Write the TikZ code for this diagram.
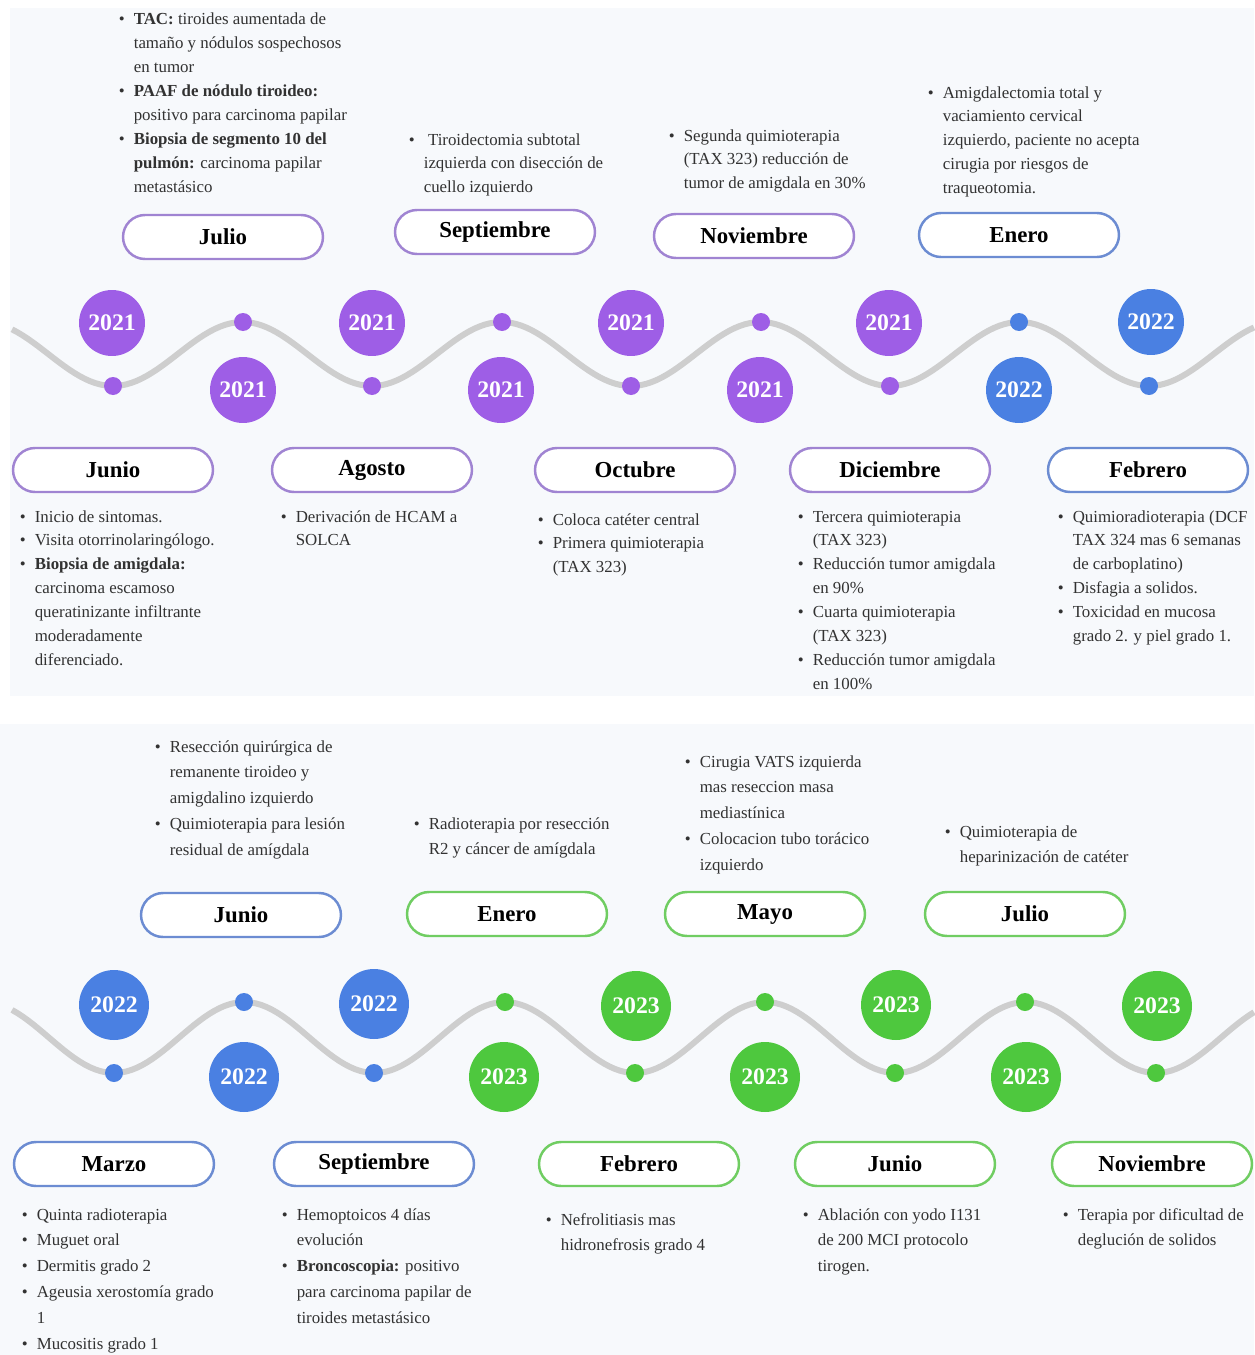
\documentclass[tikz,border=0pt]{standalone}
\usepackage{fontspec}
\setmainfont{Liberation Serif}
\usepackage{tikz}
\definecolor{paper}{RGB}{247,249,252}
\definecolor{wavegray}{RGB}{206,206,206}
\definecolor{purp}{RGB}{158,94,230}
\definecolor{blu}{RGB}{74,128,226}
\definecolor{grn}{RGB}{78,200,62}
\definecolor{pillP}{RGB}{160,132,210}
\definecolor{pillB}{RGB}{108,140,210}
\definecolor{pillG}{RGB}{112,205,98}
\definecolor{txt}{RGB}{50,50,50}
\tikzstyle{wave}=[draw=wavegray,line width=3.4pt]
\tikzstyle{bead}=[circle,inner sep=0mm,minimum size=3.6mm]
\tikzstyle{year}=[circle,inner sep=0mm,minimum size=13.2mm,text=white,font=\fontsize{13.5}{14}\selectfont\bfseries]
\tikzstyle{month}=[draw,fill=white,rounded corners=4.4mm,minimum width=40mm,minimum height=8.8mm,line width=1.4pt,font=\fontsize{13}{14}\selectfont\bfseries]
\tikzstyle{notes}=[anchor=base west,inner sep=0mm,text=txt,font=\fontsize{9.6}{13.6}\selectfont]
\tikzstyle{notesb}=[notes,font=\fontsize{9.6}{14.7}\selectfont]
\newcommand{\bul}{\makebox[8.5pt][l]{\textbullet}}
\tikzset{every picture/.style={
    line width=1
  }
}

\begin{document}
\begin{tikzpicture}[x=0.02cm,y=-0.02cm]
      \useasboundingbox (0,0) rectangle (1254,1355);
      \fill[paper] (10,8) rectangle (1254,696);
      \fill[paper] (0,724) rectangle (1254,1355);

      % 2021 - 2022
      \draw[wave] plot[domain=12:1254,samples=240] (\x,{354+32*cos((\x-113)/259*360)});
      \node[bead,fill=purp] at (113,386) (d1) {};
      \node[bead,fill=purp] at (243,322) (d2) {};
      \node[bead,fill=purp] at (372,386) (d3) {};
      \node[bead,fill=purp] at (502,322) (d4) {};
      \node[bead,fill=purp] at (631,386) (d5) {};
      \node[bead,fill=purp] at (761,322) (d6) {};
      \node[bead,fill=purp] at (890,386) (d7) {};
      \node[bead,fill=blu] at (1019,322) (d8) {};
      \node[bead,fill=blu] at (1149,386) (d9) {};

      \node[year,fill=purp] at (112,323) (y1) {2021};
      \node[year,fill=purp] at (243,390) (y2) {2021};
      \node[year,fill=purp] at (372,323) (y3) {2021};
      \node[year,fill=purp] at (501,390) (y4) {2021};
      \node[year,fill=purp] at (631,323) (y5) {2021};
      \node[year,fill=purp] at (760,390) (y6) {2021};
      \node[year,fill=purp] at (889,323) (y7) {2021};
      \node[year,fill=blu] at (1019,390) (y8) {2022};
      \node[year,fill=blu] at (1151,322) (y9) {2022};

      \node[month,draw=pillP] at (113,470) (m1) {Junio};
      \node[month,draw=pillP] at (223,237) (m2) {Julio};
      \node[month,draw=pillP] at (372,470) (m3) {Agosto};
      \node[month,draw=pillP] at (495,232) (m4) {Septiembre};
      \node[month,draw=pillP] at (635,470) (m5) {Octubre};
      \node[month,draw=pillP] at (754,236) (m6) {Noviembre};
      \node[month,draw=pillP] at (890,470) (m7) {Diciembre};
      \node[month,draw=pillB] at (1019,235) (m8) {Enero};
      \node[month,draw=pillB] at (1148,470) (m9) {Febrero};

      \node[notes] at (118,25) (n2) {\begin{tabular}[t]{@{}l@{}l@{}}
        \bul & \textbf{TAC:} tiroides aumentada de\\
        & tamaño y nódulos sospechosos\\
        & en tumor\\
        \bul & \textbf{PAAF de nódulo tiroideo:}\\
        & positivo para carcinoma papilar\\
        \bul & \textbf{Biopsia de segmento 10 del}\\
        & \textbf{pulmón:} carcinoma papilar\\
        & metastásico
      \end{tabular}};
      \node[notes] at (408,145) (n4) {\begin{tabular}[t]{@{}l@{}l@{}}
        \bul & \ Tiroidectomia subtotal\\
        & izquierda con disección de\\
        & cuello izquierdo
      \end{tabular}};
      \node[notes] at (668,141) (n6) {\begin{tabular}[t]{@{}l@{}l@{}}
        \bul & Segunda quimioterapia\\
        & (TAX 323) reducción de\\
        & tumor de amigdala en 30\%
      \end{tabular}};
      \node[notes] at (927,98) (n8) {\begin{tabular}[t]{@{}l@{}l@{}}
        \bul & Amigdalectomia total y\\
        & vaciamiento cervical\\
        & izquierdo, paciente no acepta\\
        & cirugia por riesgos de\\
        & traqueotomia.
      \end{tabular}};
      \node[notes] at (19,522) (n1) {\begin{tabular}[t]{@{}l@{}l@{}}
        \bul & Inicio de sintomas.\\
        \bul & Visita otorrinolaringólogo.\\
        \bul & \textbf{Biopsia de amigdala:}\\
        & carcinoma escamoso\\
        & queratinizante infiltrante\\
        & moderadamente\\
        & diferenciado.
      \end{tabular}};
      \node[notes] at (280,522) (n3) {\begin{tabular}[t]{@{}l@{}l@{}}
        \bul & Derivación de HCAM a\\
        & SOLCA
      \end{tabular}};
      \node[notes] at (537,525) (n5) {\begin{tabular}[t]{@{}l@{}l@{}}
        \bul & Coloca catéter central\\
        \bul & Primera quimioterapia\\
        & (TAX 323)
      \end{tabular}};
      \node[notes] at (797,522) (n7) {\begin{tabular}[t]{@{}l@{}l@{}}
        \bul & Tercera quimioterapia\\
        & (TAX 323)\\
        \bul & Reducción tumor amigdala\\
        & en 90\%\\
        \bul & Cuarta quimioterapia\\
        & (TAX 323)\\
        \bul & Reducción tumor amigdala\\
        & en 100\%
      \end{tabular}};
      \node[notes] at (1057,522) (n9) {\begin{tabular}[t]{@{}l@{}l@{}}
        \bul & Quimioradioterapia (DCF\\
        & TAX 324 mas 6 semanas\\
        & de carboplatino)\\
        \bul & Disfagia a solidos.\\
        \bul & Toxicidad en mucosa\\
        & grado 2. y piel grado 1.
      \end{tabular}};

      % 2022 - 2023
      \draw[wave] plot[domain=12:1254,samples=240] (\x,{1037.5+35.5*cos((\x-114)/260.5*360)});
      \node[bead,fill=blu] at (114,1073) (e1) {};
      \node[bead,fill=blu] at (244,1002) (e2) {};
      \node[bead,fill=blu] at (374,1073) (e3) {};
      \node[bead,fill=grn] at (505,1002) (e4) {};
      \node[bead,fill=grn] at (635,1073) (e5) {};
      \node[bead,fill=grn] at (765,1002) (e6) {};
      \node[bead,fill=grn] at (895,1073) (e7) {};
      \node[bead,fill=grn] at (1025,1002) (e8) {};
      \node[bead,fill=grn] at (1156,1073) (e9) {};

      \node[year,minimum size=14mm,fill=blu] at (114,1005) (z1) {2022};
      \node[year,minimum size=14mm,fill=blu] at (244,1077) (z2) {2022};
      \node[year,minimum size=14mm,fill=blu] at (374,1004) (z3) {2022};
      \node[year,minimum size=14mm,fill=grn] at (504,1077) (z4) {2023};
      \node[year,minimum size=14mm,fill=grn] at (636,1006) (z5) {2023};
      \node[year,minimum size=14mm,fill=grn] at (765,1077) (z6) {2023};
      \node[year,minimum size=14mm,fill=grn] at (896,1005) (z7) {2023};
      \node[year,minimum size=14mm,fill=grn] at (1026,1077) (z8) {2023};
      \node[year,minimum size=14mm,fill=grn] at (1157,1006) (z9) {2023};

      \node[month,draw=pillB] at (114,1164) (k1) {Marzo};
      \node[month,draw=pillB] at (241,915) (k2) {Junio};
      \node[month,draw=pillB] at (374,1164) (k3) {Septiembre};
      \node[month,draw=pillG] at (507,914) (k4) {Enero};
      \node[month,draw=pillG] at (639,1164) (k5) {Febrero};
      \node[month,draw=pillG] at (765,914) (k6) {Mayo};
      \node[month,draw=pillG] at (895,1164) (k7) {Junio};
      \node[month,draw=pillG] at (1025,914) (k8) {Julio};
      \node[month,draw=pillG] at (1152,1164) (k9) {Noviembre};

      \node[notesb] at (154,752) (p2) {\begin{tabular}[t]{@{}l@{}l@{}}
        \bul & Resección quirúrgica de\\
        & remanente tiroideo y\\
        & amigdalino izquierdo\\
        \bul & Quimioterapia para lesión\\
        & residual de amígdala
      \end{tabular}};
      \node[notesb] at (413,829) (p4) {\begin{tabular}[t]{@{}l@{}l@{}}
        \bul & Radioterapia por resección\\
        & R2 y cáncer de amígdala
      \end{tabular}};
      \node[notesb] at (684,767) (p6) {\begin{tabular}[t]{@{}l@{}l@{}}
        \bul & Cirugia VATS izquierda\\
        & mas reseccion masa\\
        & mediastínica\\
        \bul & Colocacion tubo torácico\\
        & izquierdo
      \end{tabular}};
      \node[notesb] at (944,837) (p8) {\begin{tabular}[t]{@{}l@{}l@{}}
        \bul & Quimioterapia de\\
        & heparinización de catéter
      \end{tabular}};
      \node[notesb] at (21,1220) (p1) {\begin{tabular}[t]{@{}l@{}l@{}}
        \bul & Quinta radioterapia\\
        \bul & Muguet oral\\
        \bul & Dermitis grado 2\\
        \bul & Ageusia xerostomía grado\\
        & 1\\
        \bul & Mucositis grado 1
      \end{tabular}};
      \node[notesb] at (281,1220) (p3) {\begin{tabular}[t]{@{}l@{}l@{}}
        \bul & Hemoptoicos 4 días\\
        & evolución\\
        \bul & \textbf{Broncoscopia:} positivo\\
        & para carcinoma papilar de\\
        & tiroides metastásico
      \end{tabular}};
      \node[notesb] at (545,1225) (p5) {\begin{tabular}[t]{@{}l@{}l@{}}
        \bul & Nefrolitiasis mas\\
        & hidronefrosis grado 4
      \end{tabular}};
      \node[notesb] at (802,1220) (p7) {\begin{tabular}[t]{@{}l@{}l@{}}
        \bul & Ablación con yodo I131\\
        & de 200 MCI protocolo\\
        & tirogen.
      \end{tabular}};
      \node[notesb] at (1062,1220) (p9) {\begin{tabular}[t]{@{}l@{}l@{}}
        \bul & Terapia por dificultad de\\
        & deglución de solidos
      \end{tabular}};
\end{tikzpicture}
\end{document}
